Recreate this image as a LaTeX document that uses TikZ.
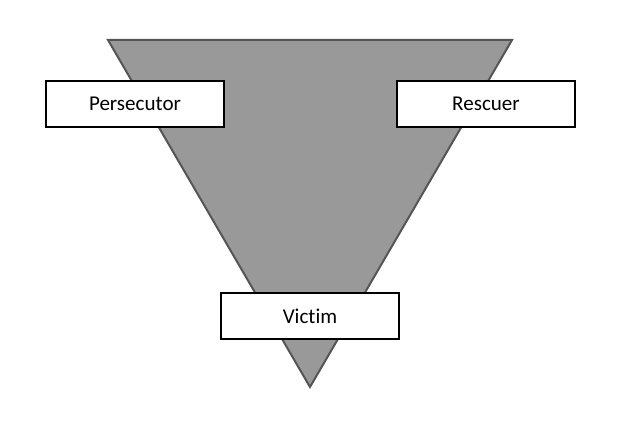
\documentclass[tikz,border=0pt]{standalone}
\usepackage{fontspec}
\setmainfont[Ligatures={NoCommon}]{Carlito}
\usepackage{tikz}
\usetikzlibrary{positioning, calc}
\definecolor{wedge}{RGB}{153, 153, 153}
\definecolor{wedgeline}{RGB}{85, 85, 85}
\tikzstyle{role} = [rectangle, minimum width=133.5pt, minimum height=34.5pt, text centered, draw=black, line width=1.5pt, fill=white, font=\fontsize{15.8}{18}\selectfont]

\begin{document}
\begin{tikzpicture}[x=0.75pt, y=-0.75pt]
    % Canvas
    \useasboundingbox (0, 0) rectangle (624, 428);

    % Triangle
    \coordinate (tl) at (108, 40);
    \coordinate (tr) at (512, 40);
    \coordinate (tip) at (310, 387);
    \draw[wedgeline, fill=wedge, line width=1.5pt, line join=miter] (tl) -- (tr) -- (tip) -- cycle;

    % Roles
    \node[role] (pers) at (135, 104) {Persecutor};
    \node[role] (resc) at (486, 104) {Rescuer};
    \node[role] (vict) at (310, 316) {Victim};
\end{tikzpicture}
\end{document}
